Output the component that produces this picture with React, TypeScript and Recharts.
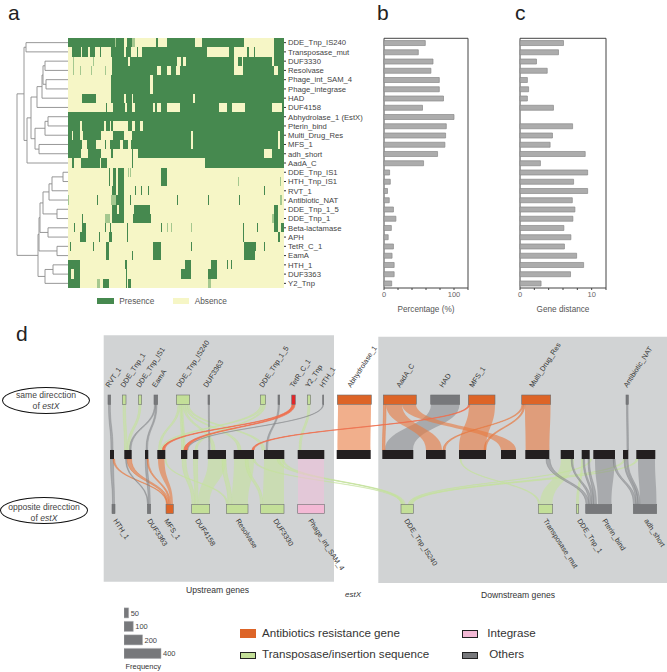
import {
  Bar,
  BarChart,
  ComposedChart,
  LabelList,
  ReferenceArea,
  ReferenceLine,
  XAxis,
  YAxis,
} from "recharts";

type Run = [number, number];

const genes = [
  "DDE_Tnp_IS240", "Transposase_mut", "DUF3330", "Resolvase", "Phage_int_SAM_4", "Phage_integrase", "HAD",
  "DUF4158", "Abhydrolase_1 (EstX)", "Pterin_bind", "Multi_Drug_Res", "MFS_1", "adh_short", "AadA_C",
  "DDE_Tnp_IS1", "HTH_Tnp_IS1", "RVT_1", "Antibiotic_NAT", "DDE_Tnp_1_5", "DDE_Tnp_1", "Beta-lactamase",
  "APH", "TetR_C_1", "EamA", "HTH_1", "DUF3363", "Y2_Tnp",
];

// presence runs per gene, in sample order (646 samples)
const presenceRuns: Run[][] = [
  [[0,140],[145,167],[175,190],[263,270],[295,380],[402,525],[617,646]],
  [[13,40],[43,60],[67,80],[95,100],[130,167],[173,187],[205,210],[220,417],[483,497],[535,540],[555,560],[617,646]],
  [[132,180],[185,325],[338,345],[353,495],[507,519],[524,610],[617,646]],
  [[132,265],[278,295],[307,323],[335,495],[523,615],[628,646]],
  [[130,245],[253,646]],
  [[130,245],[253,646]],
  [[43,85],[130,167],[173,190],[195,375],[380,646]],
  [[113,117],[135,170],[177,190],[200,255],[261,265],[277,297],[335,453],[475,491],[528,610],[640,646]],
  [[0,646]],
  [[0,37],[43,107],[115,125],[130,135],[180,190],[200,215],[225,646]],
  [[0,13],[15,37],[45,100],[135,167],[190,368],[373,628],[635,646]],
  [[0,43],[57,85],[110,115],[125,155],[163,180],[187,368],[375,628],[635,646]],
  [[0,40],[60,100],[130,135],[190,195],[210,587],[610,646]],
  [[13,17],[40,95],[100,117],[190,195],[410,646]],
  [[122,127],[135,143],[150,167],[277,295]],
  [[122,127],[135,143],[150,167],[277,295]],
  [[133,145],[150,167],[200,203],[217,220],[240,243],[587,590]],
  [[87,91],[145,167],[185,189],[325,328],[420,423],[510,513]],
  [[133,147],[153,167],[197,245],[617,629]],
  [[42,45],[133,167],[193,247],[617,629]],
  [[17,20],[42,55],[110,115],[125,130],[175,180],[277,280],[522,525],[565,568],[617,629],[638,646]],
  [[37,53],[93,95],[123,131],[175,179],[522,525],[628,634]],
  [[7,10],[50,52],[75,77],[115,123],[253,277],[368,371],[525,561],[585,590]],
  [[115,123],[191,194],[253,277],[527,558]],
  [[0,37],[170,175],[350,368],[427,446],[475,478],[487,491]],
  [[0,10],[17,37],[173,177],[337,368],[420,446]],
  [[0,37],[105,123],[173,175],[180,188]],
];

// thin columns that look washed out in the picture: [gene row, from, to]
const faintRuns: [number, number, number][] = [
  [0,140,145],[0,190,200],[2,15,17],[2,38,40],[2,75,77],[3,15,18],[3,37,40],[3,70,73],[3,110,113],
  [14,180,183],[14,185,189],[15,507,510],[15,633,637],[17,0,3],[17,130,143],[17,633,641],
  [19,110,125],[19,610,615],[20,295,299],[20,307,311],[20,368,372],[26,87,95],[26,420,427],
];

// dendrogram merges: [a, b, height]; a positive value is a gene row + 1, a negative one an earlier merge
const merges: [number, number, number][] = [
  [3, 4, 23], [5, 6, 22], [-1, -2, 25], [-3, 7, 26], [-4, 8, 31],
  [9, 10, 20], [-6, 11, 23], [12, 13, 29], [-7, -8, 33], [-5, -9, 37], [-10, 14, 41],
  [1, 2, 42], [-12, -11, 44],
  [15, 16, 5], [-14, 17, 16], [-15, 18, 19], [19, 20, 11], [-16, -17, 25], [21, 22, 20], [-18, -19, 28],
  [23, 24, 11], [-20, -21, 29], [25, 26, 15], [-23, 27, 23], [-22, -24, 30],
  [-13, -25, 51],
];

const percentage = [59, 49, 70, 67, 79, 79, 85, 55, 100, 89, 88, 87, 76.5, 56.5, 8, 9, 5, 7.5, 13.5, 17, 10.5, 6, 13.5, 11.5, 14.5, 14.5, 11];
const geneDistance = [6.07, 5.37, 2.3, 3.8, 1.03, 1.2, 1.03, 4.67, null, 7.34, 4.53, 4.2, 9.1, 2.85, 9.44, 7.48, 9.44, 7.3, 7.66, 7.38, 6.12, 7.1, 6.2, 7.9, 8.88, 7.05, 2.94];

type Kind = "orange" | "red" | "green" | "gray" | "pink";
type GeneNode = { name: string; x0: number; x1: number; kind: Kind; labelX?: number };

// gene blocks along the track, same direction of estX
const topNodes: GeneNode[] = [
  { name: "RVT_1", x0: 108, x1: 110.7, kind: "gray" },
  { name: "DDE_Tnp_1", x0: 122.3, x1: 126, kind: "green" },
  { name: "DDE_Tnp_IS1", x0: 138.3, x1: 141.7, kind: "green" },
  { name: "EamA", x0: 154, x1: 157.7, kind: "gray" },
  { name: "DDE_Tnp_IS240", x0: 176.3, x1: 189.7, kind: "green", labelX: 180 },
  { name: "DUF3363", x0: 208, x1: 209.7, kind: "gray", labelX: 207 },
  { name: "DDE_Tnp_1_5", x0: 260.3, x1: 265.7, kind: "green" },
  { name: "", x0: 278, x1: 279.7, kind: "gray" },
  { name: "TetR_C_1", x0: 291.7, x1: 295.3, kind: "red" },
  { name: "Y2_Tnp", x0: 307.3, x1: 310.7, kind: "green" },
  { name: "HTH_1", x0: 322.7, x1: 323.7, kind: "gray" },
  { name: "Abhydrolase_1", x0: 337.3, x1: 371.3, kind: "orange", labelX: 351 },
  { name: "AadA_C", x0: 383.3, x1: 416.3, kind: "orange", labelX: 400 },
  { name: "HAD", x0: 430.7, x1: 459.7, kind: "gray", labelX: 443 },
  { name: "MFS_1", x0: 468.3, x1: 495, kind: "orange", labelX: 473 },
  { name: "Multi_Drug_Res", x0: 521.7, x1: 550.7, kind: "orange", labelX: 533 },
  { name: "Antibiotic_NAT", x0: 626, x1: 628.3, kind: "gray" },
];

// opposite direction of estX
const bottomNodes: GeneNode[] = [
  { name: "HTH_1", x0: 112, x1: 115, kind: "gray", labelX: 113 },
  { name: "DUF3363", x0: 147.3, x1: 150.7, kind: "gray", labelX: 147 },
  { name: "MFS_1", x0: 166, x1: 173.3, kind: "orange", labelX: 164 },
  { name: "DUF4158", x0: 191.7, x1: 209.7, kind: "green", labelX: 195 },
  { name: "Resolvase", x0: 226.3, x1: 248, kind: "green", labelX: 235.5 },
  { name: "DUF3330", x0: 260.7, x1: 284, kind: "green", labelX: 273 },
  { name: "Phage_int_SAM_4", x0: 297.7, x1: 324.3, kind: "pink", labelX: 308 },
  { name: "DDE_Tnp_IS240", x0: 401, x1: 413.3, kind: "green", labelX: 404 },
  { name: "Transposase_mut", x0: 538.3, x1: 552.7, kind: "green", labelX: 543 },
  { name: "DDE_Tnp_1", x0: 576.3, x1: 578.7, kind: "green", labelX: 577 },
  { name: "Pterin_bind", x0: 585.7, x1: 611.7, kind: "gray", labelX: 602 },
  { name: "adh_short", x0: 633.3, x1: 656.7, kind: "gray", labelX: 644 },
];

const middleBlocks: Run[] = [
  [110,114],[124.3,131.7],[145,148.3],[157.3,165.3],[181,187.3],[193,198.3],[207.7,226],[233.7,254],[264,284.3],[297.7,324.3],
  [336.7,370.7],[382.3,413.3],[426,445.7],[459,486],[501,516],[525.3,549.3],[560.7,574],[581.7,589.7],[593.3,615],[623,628.3],[636.3,655.3],
];

type Ribbon = [number, number, number, number, Kind];

const upperRibbons: Ribbon[] = [
  [108.5,110.3,111,113,"gray"],[123,125.5,124.5,127,"green"],[139,141,127,129.5,"green"],
  [154.5,155.6,129.5,131,"gray"],[155.6,157,146,147.5,"gray"],
  [178,180,158.5,160.5,"green"],[180,181.5,181.5,183.5,"green"],[181.5,183,183.5,185,"green"],
  [183,185,212,215,"green"],[185,187,238,241,"green"],[187,189,262,265,"green"],
  [208.3,209.4,208.8,209.8,"gray"],[260.5,263.5,161,164.5,"green"],[263.5,265.5,195,197,"green"],
  [278.2,279.5,266,267.5,"gray"],[308,310,299,301,"green"],[322.8,323.6,187,188,"gray"],
  [292,294,162.5,164.8,"red"],[292.5,295,184,187.2,"red"],
  [431,459.5,385,413,"gray"],
  [338,371,337.5,370.5,"orange"],[383.5,386,382.5,385,"orange"],[386,402,426,442,"orange"],[402,416,501,516,"orange"],
  [468.5,470,252,254,"red"],[469,495,459,486,"orange"],
  [522,523.5,443,445,"orange"],[523.5,525,484,486,"orange"],[525,550.5,525.7,549.5,"orange"],
  [626.5,628,627,628.5,"gray"],
];

const lowerRibbons: Ribbon[] = [
  [110.5,113.5,112.5,114.5,"gray"],[113,114.5,166.5,167.5,"orange"],[127,131.5,167,169,"orange"],
  [125.5,126.5,147.5,148.3,"gray"],[145.3,147.5,148.3,150.3,"gray"],[147,148.3,169,170.5,"orange"],[158,164.5,170.5,173,"orange"],
  [165,166,226.5,228,"green"],[182,186,192,195,"green"],[193.5,197.5,195,198,"green"],[208,226,198,209.5,"green"],
  [222,226,228,232,"green"],[234,254,232,248,"green"],[245,248,260.5,263,"green"],[264,284,263,284,"green"],
  [282,284,401,403,"green"],[277,279.5,403,405,"green"],[253,255,401.5,402.5,"green"],
  [298,324,298,324,"pink"],
  [636,638,411.5,413,"green"],[623.5,625.5,410,411.5,"green"],[590,591.5,408.5,410,"green"],
  [460,461,538.5,540,"green"],[561,574,540,552.5,"green"],[581.5,583,576.5,578.5,"green"],
  [546,550,586,589,"gray"],[571,572.5,589,591.5,"gray"],[583,584.5,591.5,593.5,"gray"],[588,589.5,593.5,596.5,"gray"],[595,614.5,598,611.5,"gray"],
  [613,615,633.5,636,"gray"],[624,625.5,636,638,"gray"],[626.5,628,638,640,"gray"],[638,655,640,656.5,"gray"],
];

const frequencies = [50, 100, 200, 400];

const GREEN = "#46894f";
const CREAM = "#f6f6c6";
const nodeFill: Record<Kind, string> = { orange: "#dd6427", red: "#e2262a", green: "#c3df98", gray: "#77787b", pink: "#f3b9d5" };
const ribbonFill: Record<Kind, [string, number]> = {
  orange: ["#e8793f", 0.6],
  red: ["#ee6f4e", 0.9],
  green: ["#c4e29c", 0.6],
  gray: ["#808285", 0.5],
  pink: ["#f3c0da", 0.55],
};

const TOP_Y: Run = [395, 404.3];
const MID_Y: Run = [450, 459];
const BOT_Y: Run = [504.3, 513.7];

function rowOf(ref: number, done: { y: number; h: number }[]) {
  return ref > 0 ? { y: ref - 0.5, h: 0 } : done[-ref - 1];
}

function dendroSegments() {
  const done: { y: number; h: number }[] = [];
  const segs: [number, number, number, number][] = [];
  merges.forEach(([a, b, h]) => {
    const l = rowOf(a, done);
    const r = rowOf(b, done);
    segs.push([l.h, l.y, h, l.y], [r.h, r.y, h, r.y], [h, l.y, h, r.y]);
    done.push({ y: (l.y + r.y) / 2, h });
  });
  return segs;
}

const rowTicks = genes.map((_, i) => i + 0.5);
const rowData = rowTicks.map((y) => ({ x: 0, y }));

function ribbonShape(r: Ribbon) {
  const [a0, a1, b0, b1, kind] = r;
  const min = Math.min(a0, b0);
  const max = Math.max(a1, b1);
  return (p: any) => {
    const sx = (v: number) => p.x + ((v - min) / (max - min)) * p.width;
    const t = p.y;
    const b = p.y + p.height;
    const m = (t + b) / 2;
    const d = `M${sx(a0)},${t}C${sx(a0)},${m} ${sx(b0)},${m} ${sx(b0)},${b}L${sx(b1)},${b}C${sx(b1)},${m} ${sx(a1)},${m} ${sx(a1)},${t}Z`;
    const [fill, opacity] = ribbonFill[kind];
    // narrow ribbons that run far sideways get too thin without an outline
    const narrow = a1 - a0 < 5;
    return <path d={d} fill={fill} fillOpacity={opacity} stroke={narrow ? fill : "none"} strokeOpacity={opacity} strokeWidth={narrow ? 0.8 : 0} />;
  };
}

function nodeShape(n: GeneNode, above: boolean) {
  return (p: any) => {
    const lx = p.x + (((n.labelX ?? (n.x0 + n.x1) / 2) - n.x0) / (n.x1 - n.x0)) * p.width;
    const ly = above ? p.y - 7 : p.y + p.height + 7;
    return (
      <g>
        <rect x={p.x} y={p.y} width={p.width} height={p.height} fill={nodeFill[n.kind]} stroke="#6d6e71" strokeWidth={0.6} />
        <text x={lx} y={ly} fontSize={7.2} fill="#333" transform={`rotate(${above ? -57 : 57} ${lx} ${ly})`}>
          {n.name}
        </text>
      </g>
    );
  };
}

function GeneTick(p: any) {
  return (
    <text x={p.x} y={p.y} dy={2.8} fontSize={7.7} fill="#444" textAnchor="start">
      {genes[Math.floor(p.payload.value)]}
    </text>
  );
}

function HeatPanel() {
  return (
    <ComposedChart width={316} height={250} margin={{ top: 0, right: 0, bottom: 0, left: 0 }} data={rowData} style={{ position: "absolute", left: 68, top: 38 }}>
      <XAxis type="number" dataKey="x" domain={[0, 646]} hide />
      <YAxis
        type="number"
        dataKey="y"
        orientation="right"
        reversed
        domain={[0, 27]}
        ticks={rowTicks}
        interval={0}
        width={100}
        axisLine={false}
        tickSize={2}
        tickMargin={2}
        tickLine={{ stroke: "#333" }}
        tick={GeneTick}
      />
      <ReferenceArea x1={0} x2={646} y1={0} y2={27} fill={CREAM} fillOpacity={1} stroke="none" />
      {presenceRuns.flatMap((runs, row) =>
        runs.map(([a, b]) => (
          <ReferenceArea key={`${row}-${a}`} x1={a} x2={b} y1={row} y2={row + 1} fill={GREEN} fillOpacity={1} stroke="none" shapeRendering="crispEdges" />
        ))
      )}
      {faintRuns.map(([row, a, b]) => (
        <ReferenceArea key={`f${row}-${a}`} x1={a} x2={b} y1={row} y2={row + 1} fill="#a5c88f" fillOpacity={1} stroke="none" shapeRendering="crispEdges" />
      ))}
    </ComposedChart>
  );
}

function Dendrogram() {
  return (
    <ComposedChart width={60} height={250} margin={{ top: 0, right: 0, bottom: 0, left: 0 }} data={rowData} style={{ position: "absolute", left: 8, top: 38 }}>
      <XAxis type="number" dataKey="x" domain={[0, 60]} reversed hide />
      <YAxis type="number" dataKey="y" reversed domain={[0, 27]} hide />
      {dendroSegments().map(([x0, y0, x1, y1], i) => (
        <ReferenceLine key={i} segment={[{ x: x0, y: y0 }, { x: x1, y: y1 }]} stroke="#8c8c8c" strokeWidth={0.9} />
      ))}
    </ComposedChart>
  );
}

function SidePanel({ left, values, max, step, labelled, title }: { left: number; values: (number | null)[]; max: number; step: number; labelled: number; title: string }) {
  const rows = genes.map((g, i) => ({ gene: g, value: values[i] }));
  const ticks: number[] = [];
  for (let v = 0; v <= max; v += step) ticks.push(v);
  return (
    <BarChart
      layout="vertical"
      width={left === 384.3 ? 110 : 112}
      height={288}
      data={rows}
      margin={{ top: 8.3, right: 12, bottom: 0, left: 14 }}
      style={{ position: "absolute", left: left - 14, top: 30 }}
      barCategoryGap="24%"
    >
      <XAxis
        type="number"
        domain={[0, max]}
        ticks={ticks}
        height={30}
        tickSize={2}
        tickLine={{ stroke: "#444" }}
        axisLine={false}
        interval={0}
        tick={{ fontSize: 7.5, fill: "#666" }}
        tickFormatter={(v: number) => (v === 0 || v === labelled ? String(v) : "")}
        label={{ value: title, position: "insideBottom", offset: 6, fontSize: 8.2, fill: "#555" }}
      />
      <YAxis type="category" dataKey="gene" hide />
      <Bar dataKey="value" fill="#acacac" stroke="#8a8a8a" strokeWidth={0.7} isAnimationActive={false} />
      <ReferenceArea x1={0} x2={max} fill="none" stroke="#444" strokeWidth={1} />
    </BarChart>
  );
}

function FlowPanel() {
  return (
    <ComposedChart width={667} height={300} margin={{ top: 0, right: 0, bottom: 0, left: 0 }} data={rowData} style={{ position: "absolute", left: 0, top: 325 }}>
      <XAxis type="number" dataKey="x" domain={[0, 667]} hide />
      <YAxis type="number" dataKey="y" reversed domain={[325, 625]} allowDataOverflow hide />
      <ReferenceArea x1={103.7} x2={334} y1={335.3} y2={581.7} fill="#d1d3d4" fillOpacity={1} stroke="none" />
      <ReferenceArea x1={378.3} x2={667} y1={336.7} y2={583} fill="#d1d3d4" fillOpacity={1} stroke="none" />
      {upperRibbons.map((r, i) => (
        <ReferenceArea key={`u${i}`} x1={Math.min(r[0], r[2])} x2={Math.max(r[1], r[3])} y1={TOP_Y[1]} y2={MID_Y[0]} shape={ribbonShape(r)} />
      ))}
      {lowerRibbons.map((r, i) => (
        <ReferenceArea key={`l${i}`} x1={Math.min(r[0], r[2])} x2={Math.max(r[1], r[3])} y1={MID_Y[1]} y2={BOT_Y[0]} shape={ribbonShape(r)} />
      ))}
      {middleBlocks.map(([a, b]) => (
        <ReferenceArea key={`m${a}`} x1={a} x2={b} y1={MID_Y[0]} y2={MID_Y[1]} fill="#231f20" fillOpacity={1} stroke="none" />
      ))}
      {topNodes.map((n) => (
        <ReferenceArea key={`t${n.x0}`} x1={n.x0} x2={n.x1} y1={TOP_Y[0]} y2={TOP_Y[1]} shape={nodeShape(n, true)} />
      ))}
      {bottomNodes.map((n) => (
        <ReferenceArea key={`b${n.x0}`} x1={n.x0} x2={n.x1} y1={BOT_Y[0]} y2={BOT_Y[1]} shape={nodeShape(n, false)} />
      ))}
    </ComposedChart>
  );
}

function FrequencyKey() {
  return (
    <BarChart
      layout="vertical"
      width={80}
      height={54}
      data={frequencies.map((f) => ({ f, label: String(f) }))}
      margin={{ top: 0, right: 43, bottom: 0, left: 0 }}
      style={{ position: "absolute", left: 124, top: 606 }}
      barCategoryGap="14%"
    >
      <XAxis type="number" domain={[0, 400]} hide />
      <YAxis type="category" dataKey="label" hide />
      <Bar dataKey="f" fill="#77787b" stroke="#a7a9ac" strokeWidth={0.5} isAnimationActive={false}>
        <LabelList dataKey="f" position="right" offset={2} fontSize={7.5} fill="#444" />
      </Bar>
    </BarChart>
  );
}

const txt = (left: number, top: number, size: number, s: string, extra: React.CSSProperties = {}) => (
  <div style={{ position: "absolute", left, top, fontSize: size, lineHeight: 1, whiteSpace: "nowrap", color: "#333", ...extra }}>{s}</div>
);

const swatch = (left: number, top: number, w: number, h: number, bg: string, border?: string) => (
  <div style={{ position: "absolute", left, top, width: w, height: h, background: bg, border: border ? `1px solid ${border}` : "none", boxSizing: "border-box" }} />
);

const ellipse = (left: number, top: number, pad: number, a: string) => (
  <div style={{ position: "absolute", left, top, width: 88, height: 27, borderRadius: "50%", border: "1.5px solid #111", boxSizing: "border-box", textAlign: "center", fontSize: 8.6, lineHeight: "11.3px", paddingTop: pad, color: "#444" }}>
    {a}
    <br />
    of <i>estX</i>
  </div>
);

export default function App() {
  return (
    <div style={{ position: "absolute", left: 0, top: 0, width: 667, height: 672, background: "#fff", fontFamily: "'Liberation Sans', Arial, sans-serif", overflow: "hidden" }}>
      {txt(8, 2, 21, "a", { color: "#222" })}
      {txt(377, 2, 21, "b", { color: "#222" })}
      {txt(515, 2, 21, "c", { color: "#222" })}
      {txt(16, 323, 21, "d", { color: "#222" })}
      <Dendrogram />
      <HeatPanel />
      {swatch(97.3, 298.3, 16.7, 6, GREEN)}
      {txt(119.3, 297, 8.3, "Presence", { color: "#555" })}
      {swatch(172.7, 298.3, 16.7, 6, CREAM)}
      {txt(194.7, 297, 8.3, "Absence", { color: "#555" })}
      <SidePanel left={384.3} values={percentage} max={120} step={20} labelled={100} title="Percentage (%)" />
      <SidePanel left={520.3} values={geneDistance} max={12} step={2} labelled={10} title="Gene distance" />
      <FlowPanel />
      {ellipse(2, 386.5, 2, "same direcction")}
      {ellipse(0, 497, 3.5, "opposite direcction")}
      {txt(186, 585.5, 8.6, "Upstream genes")}
      {txt(345, 591, 8, "estX", { fontStyle: "italic" })}
      {txt(481, 590.5, 8.6, "Downstream genes")}
      <FrequencyKey />
      {txt(125.5, 663, 7.5, "Frequency")}
      {swatch(240, 629.3, 16.3, 8.7, "#dd6427")}
      {txt(262, 627, 11.6, "Antibiotics resistance gene")}
      {swatch(240, 651.5, 16.3, 7, "#c3df98", "#222")}
      {txt(262, 648, 11.6, "Transposase/insertion sequence")}
      {swatch(461.7, 629.5, 16.6, 8, "#f3b9d5", "#222")}
      {txt(487.3, 627, 11.6, "Integrase")}
      {swatch(461.7, 651.5, 16.6, 7, "#77787b", "#222")}
      {txt(489.3, 648, 11.6, "Others")}
    </div>
  );
}
